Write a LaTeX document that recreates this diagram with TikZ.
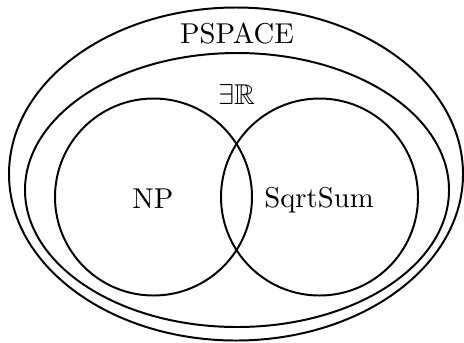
\documentclass[tikz,border=0pt]{standalone}
\usepackage{amsmath,amssymb}
\usepackage{tikz}

\begin{document}
\begin{tikzpicture}[
  x=0.38pt, y=0.38pt,
  set/.style={draw=black, line width=0.75pt},
  setlabel/.style={anchor=base, inner sep=0pt, font=\fontsize{10.9}{13}\selectfont}
]
\useasboundingbox (0,0) rectangle (464,342);

% classes
\draw[set] (236,168) ellipse [x radius=227, y radius=166.5];
\draw[set] (237,152) ellipse [x radius=212, y radius=137];
\draw[set] (153.5,145) circle [radius=98.5];
\draw[set] (319.5,145) circle [radius=98.5];

% labels
\node (pspace) [setlabel] at (237,298.7) {PSPACE};
\node (er) [setlabel] at (236.5,237.7) {$\exists\mathbb{R}$};
\node (np) [setlabel] at (153,133.7) {NP};
\node (sqrtsum) [setlabel] at (319,134.7) {SqrtSum};
\end{tikzpicture}
\end{document}
